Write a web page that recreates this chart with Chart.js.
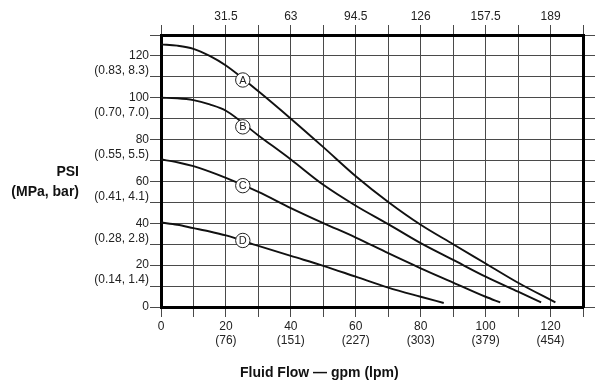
<!DOCTYPE html>
<html><head><meta charset="utf-8">
<style>html,body{margin:0;padding:0;background:#fff}#wrap{width:600px;height:383px}</style>
<script src="https://cdn.jsdelivr.net/npm/chart.js@4/dist/chart.umd.min.js"></script>
</head><body><div id="wrap"><canvas id="c" width="600" height="383"></canvas></div>
<script>
// Curve data (flow in gpm, pressure in PSI)
const flowA = [0, 5, 10, 15, 20, 30, 40, 50, 60, 70, 80, 90, 100, 110, 121.5];
const psiA  = [125.5, 124.9, 123.4, 120, 115.4, 103.1, 90, 76.4, 62.5, 50.2, 39.3, 30, 20.8, 11.6, 2.2];
const flowB = [0, 5, 10, 15, 20, 30, 40, 50, 60, 70, 80, 90, 100, 110, 117.1];
const psiB  = [100, 99.8, 98.9, 96.8, 93.8, 82, 70.5, 58.4, 48.4, 39.6, 30.5, 22.5, 14.5, 7.3, 2.2];
const flowC = [0, 5, 10, 15, 20, 30, 40, 50, 60, 70, 80, 90, 100, 104.5];
const psiC  = [70.5, 69.2, 67.3, 64.7, 61.7, 55, 47.3, 40.1, 33.2, 25.7, 18.5, 11.7, 4.9, 2.2];
const flowD = [0, 5, 10, 15, 20, 30, 40, 50, 60, 70, 80, 87.1];
const psiD  = [40.4, 39.3, 37.7, 36.1, 34.2, 29.2, 24.4, 19.7, 14.5, 9.3, 4.9, 1.9];

// Curve markers
const markerLetters = ['A', 'B', 'C', 'D'];
const markerFlow = [25.2, 25.2, 25.2, 25.2];
const markerPsi  = [108.5, 86.1, 58, 31.8];

// Tick labels
const psiLabels = ['0', '20', '40', '60', '80', '100', '120'];
const mpaBarLabels = ['(0.14, 1.4)', '(0.28, 2.8)', '(0.41, 4.1)', '(0.55, 5.5)', '(0.70, 7.0)', '(0.83, 8.3)'];
const gpmLabels = ['0', '20', '40', '60', '80', '100', '120'];
const lpmLabels = ['', '(76)', '(151)', '(227)', '(303)', '(379)', '(454)'];
const topLabels = ['', '31.5', '63', '94.5', '126', '157.5', '189'];

const FONT = '"Liberation Sans", Arial, sans-serif';
const GRID = '#4a4a4a';
const TXT = '#222';

function pts(xs, ys) { return xs.map((x, i) => ({x: x, y: ys[i]})); }
function curve(xs, ys) {
  return { data: pts(xs, ys), showLine: true, borderColor: '#111', borderWidth: 1.9,
    pointRadius: 0, cubicInterpolationMode: 'monotone', fill: false, order: 1 };
}

const letterPlugin = {
  id: 'letters',
  afterDatasetsDraw(chart) {
    const ctx = chart.ctx;
    const meta = chart.getDatasetMeta(4);
    ctx.save();
    ctx.font = '11px ' + FONT;
    ctx.fillStyle = TXT;
    ctx.textAlign = 'center';
    ctx.textBaseline = 'middle';
    meta.data.forEach((el, i) => ctx.fillText(markerLetters[i], el.x, el.y + 0.5));
    ctx.restore();
  },
  afterDraw(chart) {
    const ctx = chart.ctx;
    ctx.save();
    ctx.font = 'bold 14px ' + FONT;
    ctx.fillStyle = '#111';
    ctx.textAlign = 'right';
    ctx.textBaseline = 'alphabetic';
    ctx.fillText('PSI', 79, 176);
    ctx.fillText('(MPa, bar)', 79, 196);
    ctx.textAlign = 'left';
    ctx.fillText('Fluid Flow \u2014 gpm (lpm)', 240, 377);
    ctx.restore();
  }
};

new Chart(document.getElementById('c'), {
  type: 'scatter',
  data: {
    datasets: [
      curve(flowA, psiA), curve(flowB, psiB), curve(flowC, psiC), curve(flowD, psiD),
      { data: pts(markerFlow, markerPsi), showLine: false, pointRadius: 7.2, order: 0,
        pointBackgroundColor: '#fff', pointBorderColor: '#222', pointBorderWidth: 1 }
    ]
  },
  options: {
    responsive: false, animation: false, devicePixelRatio: 1,
    layout: { padding: 0 },
    plugins: { legend: { display: false }, tooltip: { enabled: false } },
    scales: {
      x: {
        type: 'linear', position: 'bottom', min: 0, max: 130,
        afterFit(s) { s.height = 76; },
        grid: { color: GRID, lineWidth: 1, tickLength: 10, drawTicks: true },
        border: { display: true, color: '#000', width: 3 },
        ticks: { stepSize: 10, padding: 2, color: TXT, maxRotation: 0, autoSkip: false,
          font: { family: FONT, size: 12, lineHeight: 1.2 },
          callback(v) {
            if (v % 20 !== 0) return '';
            const i = v / 20;
            return i === 0 ? gpmLabels[0] : [gpmLabels[i], lpmLabels[i]];
          } }
      },
      xTop: {
        type: 'linear', position: 'top', min: 0, max: 130,
        afterFit(s) { s.height = 35; },
        grid: { color: GRID, lineWidth: 1, tickLength: 10, drawOnChartArea: false },
        border: { display: true, color: '#000', width: 3 },
        ticks: { stepSize: 10, padding: 1, color: TXT, maxRotation: 0, autoSkip: false,
          font: { family: FONT, size: 12 },
          callback(v) { return v % 20 === 0 ? topLabels[v / 20] : ''; } }
      },
      y: {
        type: 'linear', position: 'left', min: 0, max: 130,
        afterFit(s) { s.width = 161; },
        grid: { color: GRID, lineWidth: 1, tickLength: 11 },
        border: { display: true, color: '#000', width: 3 },
        ticks: { stepSize: 10, padding: 1, color: TXT, autoSkip: false,
          font: { family: FONT, size: 12, lineHeight: 1.0 },
          callback(v) {
            if (v % 20 === 0) return psiLabels[v / 20];
            const j = (v - 10) / 20;
            return j < mpaBarLabels.length ? [mpaBarLabels[j], ''] : '';
          } }
      },
      yRight: {
        type: 'linear', position: 'right', min: 0, max: 130,
        afterFit(s) { s.width = 17; },
        grid: { color: GRID, lineWidth: 1, tickLength: 12, drawOnChartArea: false },
        border: { display: true, color: '#000', width: 3 },
        ticks: { stepSize: 10, display: false }
      }
    }
  },
  plugins: [letterPlugin]
});
</script>
</body></html>
